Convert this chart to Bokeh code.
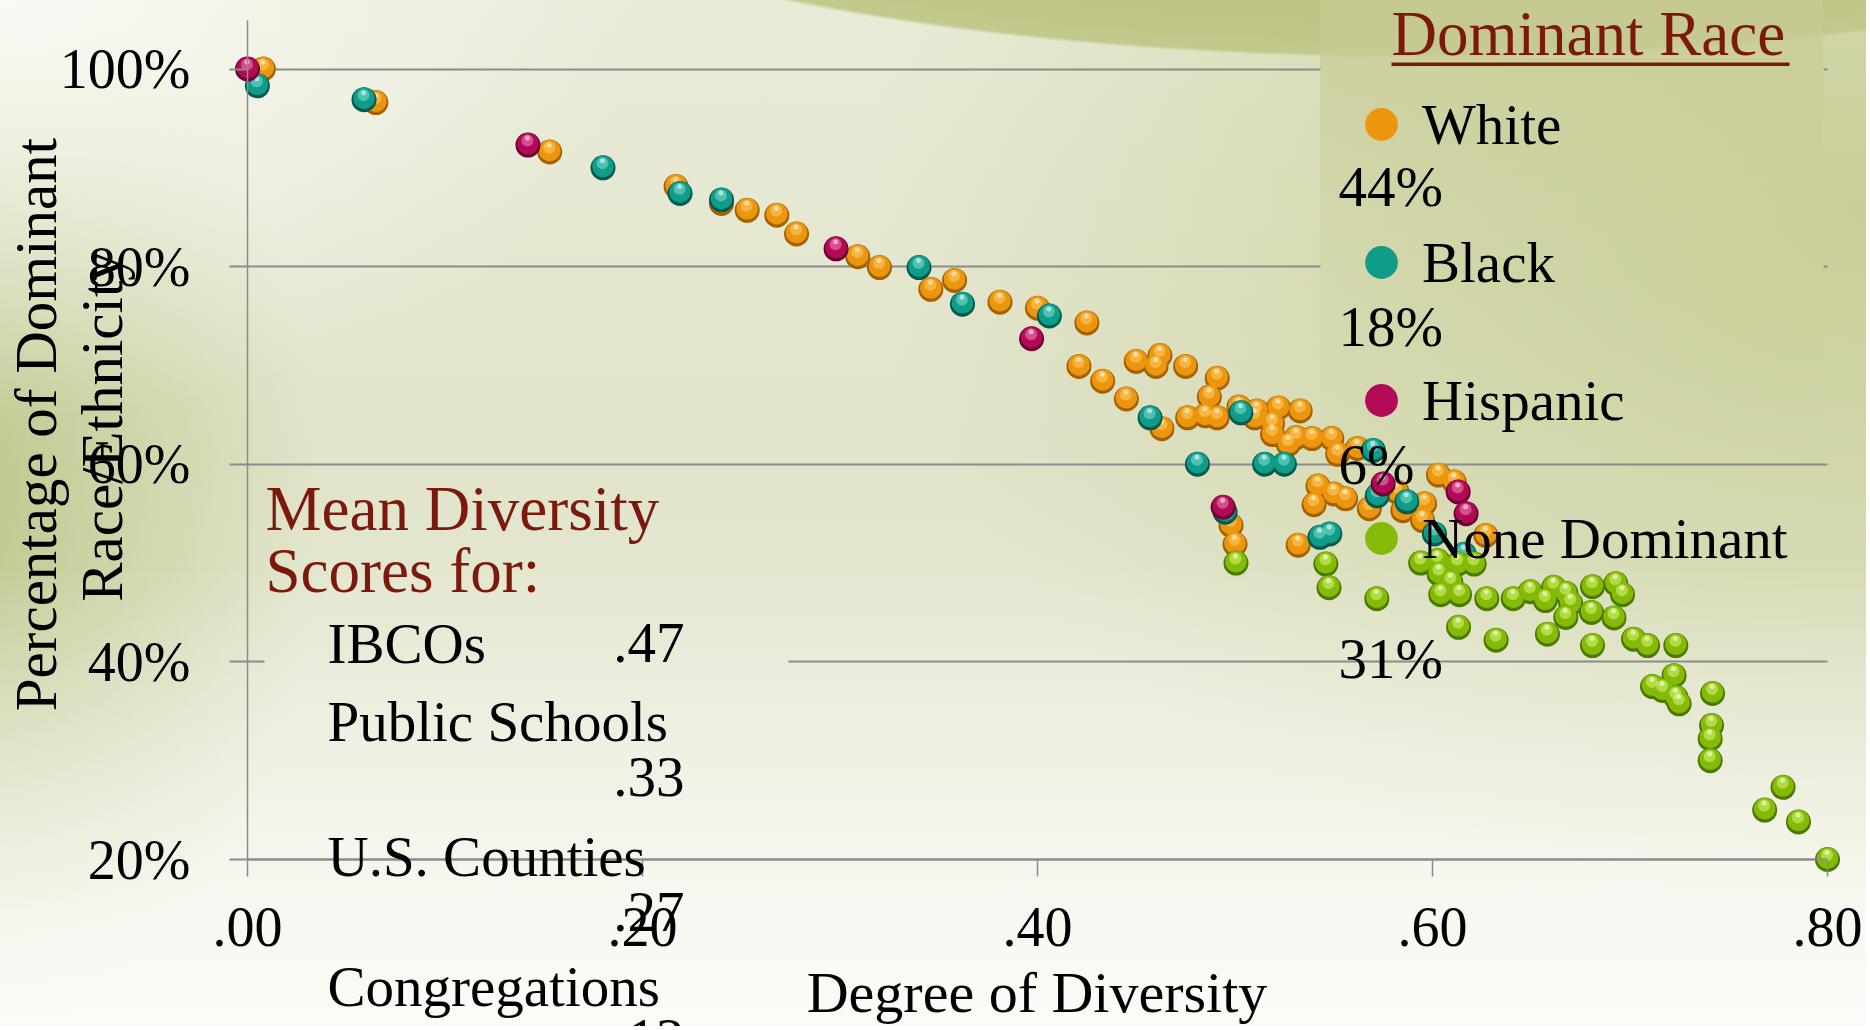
from bokeh.plotting import figure
from bokeh.models import (Range1d, FixedTicker, CustomJSTickFormatter, Label, Legend,
                          LegendItem, Grid, BoxAnnotation, ColumnDataSource)
from bokeh.transform import dodge
from bokeh.embed import file_html
from bokeh.resources import INLINE
import math

# ---------------- data ----------------
x_ticks = [0, 0.2, 0.4, 0.6, 0.8]
x_tick_labels = [".00", ".20", ".40", ".60", ".80"]
y_ticks = [20, 40, 60, 80, 100]
y_tick_labels = ["20%", "40%", "60%", "80%", "100%"]

races = ["White", "Black", "Hispanic", "None Dominant"]
race_share = ["44%", "18%", "6%", "31%"]

mean_groups = ["IBCOs", "Public Schools", "U.S. Counties", "Congregations"]
mean_scores = [".47", ".33", ".27", ".12"]

white_x = [0.008, 0.065, 0.153, 0.217, 0.240, 0.253, 0.268, 0.278, 0.309, 0.320,
           0.358, 0.346, 0.381, 0.400, 0.425, 0.421, 0.433, 0.445, 0.463, 0.450,
           0.462, 0.460, 0.475, 0.491, 0.487, 0.476, 0.485, 0.491, 0.502, 0.511,
           0.510, 0.522, 0.533, 0.519, 0.519, 0.527, 0.531, 0.539, 0.549, 0.552,
           0.562, 0.542, 0.540, 0.550, 0.556, 0.568, 0.582, 0.585, 0.596, 0.595,
           0.603, 0.611, 0.627, 0.498, 0.500, 0.532]
white_y = [100.0, 96.6, 91.6, 88.1, 86.4, 85.7, 85.2, 83.3, 81.0, 79.9,
           78.6, 77.7, 76.4, 75.8, 74.3, 69.9, 68.4, 66.6, 63.6, 70.4,
           71.0, 69.9, 69.9, 68.7, 66.8, 64.7, 64.9, 64.7, 65.8, 65.4,
           64.7, 65.7, 65.4, 64.1, 63.0, 62.0, 62.7, 62.6, 62.6, 61.0,
           61.6, 57.8, 55.9, 57.0, 56.5, 55.5, 57.2, 55.3, 56.0, 54.3,
           58.9, 58.2, 52.8, 53.8, 51.9, 51.8]

black_x = [0.005, 0.059, 0.180, 0.219, 0.240, 0.340, 0.362, 0.406, 0.457, 0.503,
           0.481, 0.515, 0.525, 0.495, 0.543, 0.548, 0.570, 0.572, 0.587, 0.601, 0.616]
black_y = [98.3, 96.9, 90.0, 87.4, 86.75, 79.9, 76.2, 75.0, 64.7, 65.2,
           60.0, 60.0, 60.0, 55.15, 52.6, 52.95, 61.4, 56.8, 56.2, 52.95, 50.9]

hisp_x = [0.000, 0.142, 0.298, 0.397, 0.494, 0.575, 0.613, 0.617]
hisp_y = [100.0, 92.3, 81.8, 72.7, 55.65, 58.0, 57.2, 55.0]

none_x = [0.5005, 0.546, 0.5476, 0.5718, 0.594, 0.6025, 0.6127, 0.6211, 0.6033, 0.6093,
          0.6042, 0.6137, 0.6275, 0.6409, 0.6495, 0.6571, 0.6614, 0.6132, 0.6322, 0.6582,
          0.6675, 0.670, 0.6675, 0.681, 0.6928, 0.6962, 0.6805, 0.6919, 0.681, 0.7018,
          0.7089, 0.7232, 0.7223, 0.7114, 0.7165, 0.7232, 0.7249, 0.7418, 0.7413, 0.7406,
          0.7406, 0.7775, 0.7682, 0.7853, 0.800]
none_y = [50.0, 49.9, 47.5, 46.4, 50.0, 50.25, 49.9, 49.9, 48.9, 48.05,
          46.8, 46.8, 46.4, 46.4, 47.1, 46.2, 47.55, 43.5, 42.2, 42.8,
          46.95, 45.9, 44.5, 47.6, 47.9, 46.8, 45.0, 44.45, 41.65, 42.3,
          41.65, 41.65, 38.6, 37.5, 37.1, 36.4, 35.75, 36.8, 33.55, 32.2,
          30.0, 27.3, 25.0, 23.8, 20.0]

# ---------------- layout helpers (canvas pixels -> data) ----------------
W, H = 1866, 1026
FL, FR, FT, FB = 247, 1827, 20, 859          # where the axes lie on the canvas
X0, X1 = 0.0, 0.8
Y0 = 20.0
Y1 = 100 + (68.5 - FT) * 80.0 / (FB - 68.5)
PXX = (X1 - X0) / (FR - FL)
PXY = (Y1 - Y0) / (FB - FT)


def X(px):
    return X0 + (px - FL) * PXX


def Y(py):
    return Y0 + (FB - py) * PXY


GRID_C = "#8b8b8b"
RED = "#7b1a0c"
SERIF = "Liberation Serif"

# the plotting frame covers the whole canvas; the axes sit at fixed data locations
p = figure(width=W, height=H, output_backend="svg", toolbar_location=None,
           x_range=Range1d(X(0), X(W)), y_range=Range1d(Y(H), Y(0)),
           min_border_left=0, min_border_right=0, min_border_top=0, min_border_bottom=0)
p.background_fill_color = None
p.border_fill_color = None
p.outline_line_color = None

bg = [
    ("linear-gradient(180deg, rgba(199,203,146,0.78) 0%, rgba(203,207,156,0.45) 45%, rgba(208,212,165,0) 100%)",
     "1320px 0px", "503px 460px"),
    ("radial-gradient(ellipse 1000px 248px at 1420px -190px, #b9bf7a 0%, #bdc381 80%, #c3c88c 98.6%, rgba(195,200,140,0) 100%)",
     "0px 0px", "100% 100%"),
    ("radial-gradient(ellipse 650px 420px at 0px 0px, rgba(249,250,244,1) 0%, rgba(249,250,244,0) 100%)",
     "0px 0px", "100% 100%"),
    ("linear-gradient(0deg, rgba(251,251,247,1) 0%, rgba(251,251,247,0.6) 15%, rgba(251,251,247,0) 45%)",
     "0px 0px", "100% 100%"),
    ("radial-gradient(ellipse 380px 560px at -60px 500px, rgba(188,197,136,1) 0%, rgba(188,197,136,0) 100%)",
     "0px 0px", "100% 100%"),
    ("radial-gradient(ellipse 1000px 700px at 1866px 210px, rgba(201,206,150,1) 0%, rgba(201,206,150,0) 100%)",
     "0px 0px", "100% 100%"),
    ("linear-gradient(180deg, #e9ebd8 0%, #e1e4ca 45%, #e9ebda 75%, #f4f5ec 100%)",
     "0px 0px", "100% 100%"),
]
p.styles = {
    "background-image": ", ".join(b[0] for b in bg),
    "background-position": ", ".join(b[1] for b in bg),
    "background-size": ", ".join(b[2] for b in bg),
    "background-repeat": "no-repeat",
}

# ---------------- axes ----------------
fmt_code = """
for (let i = 0; i < t.length; i++) { if (Math.abs(t[i] - tick) < 1e-9) return l[i]; }
return "";
"""
xa = p.xaxis[0]
xa.fixed_location = Y0
xa.bounds = (X0, X1)
xa.ticker = FixedTicker(ticks=x_ticks)
xa.formatter = CustomJSTickFormatter(args=dict(t=x_ticks, l=x_tick_labels), code=fmt_code)
xa.axis_line_color = GRID_C
xa.axis_line_width = 2
xa.major_tick_line_color = GRID_C
xa.major_tick_line_width = 1.5
xa.major_tick_out = 17
xa.major_tick_in = 0
xa.minor_tick_line_color = None
xa.major_label_text_font = SERIF
xa.major_label_text_font_size = "56px"
xa.major_label_text_color = "black"
xa.major_label_standoff = 31

ya = p.yaxis[0]
ya.fixed_location = X0
ya.bounds = (Y0, Y1)
ya.ticker = FixedTicker(ticks=y_ticks)
ya.formatter = CustomJSTickFormatter(args=dict(t=y_ticks, l=y_tick_labels), code=fmt_code)
ya.axis_line_color = GRID_C
ya.axis_line_width = 1.5
ya.major_tick_line_color = GRID_C
ya.major_tick_line_width = 2
ya.major_tick_out = 18
ya.major_tick_in = 0
ya.minor_tick_line_color = None
ya.major_label_text_font = SERIF
ya.major_label_text_font_size = "56px"
ya.major_label_text_color = "black"
ya.major_label_standoff = 39

p.xgrid.visible = False
p.ygrid.visible = False
grid_runs = [
    ([20, 60], X0, X1),
    ([80, 100], X0, X(1320)),
    ([80, 100], X(1823), X1),
    ([40], X0, X(264)),
    ([40], X(788), X1),
]
for ticks, lo, hi in grid_runs:
    p.add_layout(Grid(dimension=1, ticker=FixedTicker(ticks=ticks), cross_bounds=(lo, hi),
                      grid_line_color=GRID_C, grid_line_width=2))

# ---------------- spheres ----------------
series = [
    (races[0], white_x, white_y, "#a36100", "#ec9610", "#ffc85e"),
    (races[1], black_x, black_y, "#045a4d", "#0f9c88", "#78dccb"),
    (races[2], hisp_x, hisp_y, "#6c0034", "#b30a58", "#ef7bb0"),
    (races[3], none_x, none_y, "#4d7800", "#84ba08", "#d2f46a"),
]
items = []
for name, xs, ys, rim, body, hi in series:
    src = ColumnDataSource(dict(x=xs, y=ys))
    p.scatter("x", "y", source=src, size=25, fill_color=rim, line_color=None)
    b = p.scatter(x="x", y=dodge("y", 1.5 * PXY, range=p.y_range), source=src,
                  size=21.5, fill_color=body, line_color=None)
    p.scatter(x=dodge("x", -0.5 * PXX, range=p.x_range), y=dodge("y", 4.5 * PXY, range=p.y_range),
              source=src, size=12, fill_color=hi, fill_alpha=0.6, line_color=None)
    p.scatter(x=dodge("x", -0.5 * PXX, range=p.x_range), y=dodge("y", 7 * PXY, range=p.y_range),
              source=src, size=5, fill_color="white", fill_alpha=0.55, line_color=None)
    items.append(LegendItem(label=name, renderers=[b]))

# legend: marker centres at x = 1381, y = 124, 262, 400, 538
legend = Legend(items=items, location=(1340, H - 583), orientation="vertical",
                glyph_width=82, glyph_height=90, label_standoff=0, spacing=48,
                padding=0, margin=0, border_line_color=None, background_fill_alpha=0,
                label_text_font=SERIF, label_text_font_size="57px", label_text_color="black")
p.add_layout(legend)


# ---------------- texts ----------------
def lab(text, px, py, size, color="black", align="left", angle=0.0):
    """px, py: canvas position of the text baseline."""
    off = 0.37 * size
    if angle:
        ax, ay = px - off, py
    else:
        ax, ay = px, py - off
    p.add_layout(Label(x=X(ax), y=Y(ay), text=text, text_font=SERIF,
                       text_font_size=f"{size}px", text_color=color,
                       text_align=align, text_baseline="alphabetic", angle=angle))


lab("Dominant Race", 1391, 57, 63, RED)
p.add_layout(BoxAnnotation(left=X(1391), right=X(1789), top=Y(62), bottom=Y(65.5),
                           fill_color=RED, fill_alpha=1, line_color=None))
for s, py in zip(race_share, [207, 347, 485, 679]):
    lab(s, 1338, py, 57)

lab("Mean Diversity", 265, 532, 63, RED)
lab("Scores for:", 265, 594, 63, RED)
for g, py in zip(mean_groups, [664, 742, 877, 1007]):
    lab(g, 327, py, 57)
for s, py in zip(mean_scores, [664, 797.5, 932.5, 1060]):
    lab(s, 684, py, 57, align="right")

lab("Percentage of Dominant", 57, 424, 59, align="center", angle=math.pi / 2)
lab("Race/Ethnicity", 123, 426, 59, align="center", angle=math.pi / 2)
lab("Degree of Diversity", 1036.5, 1013, 58, align="center")

open("out.html", "w").write(file_html(p, INLINE))
